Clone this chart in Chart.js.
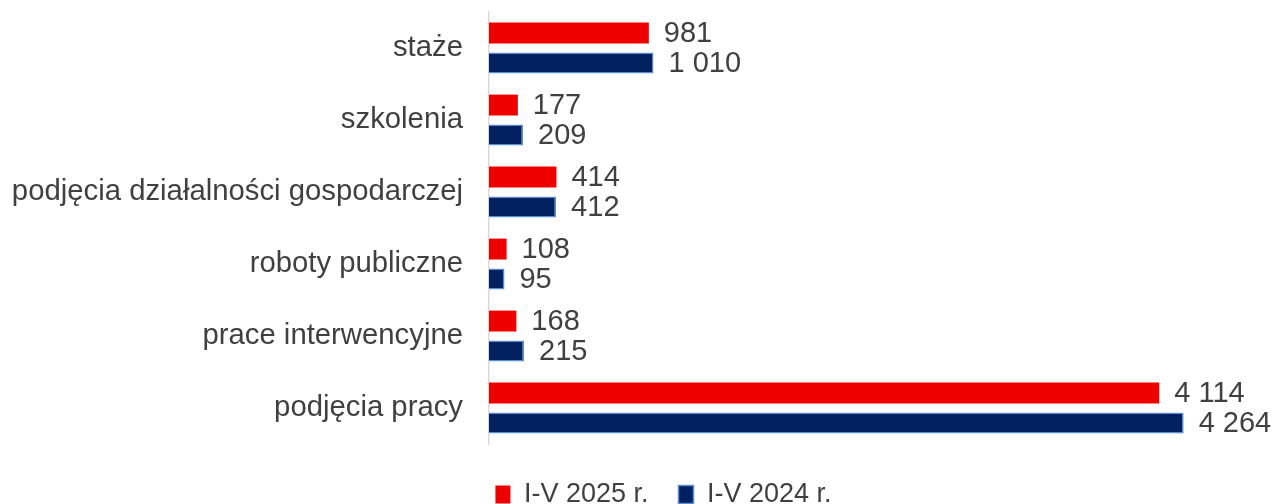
<!DOCTYPE html>
<html>
<head>
<meta charset="utf-8">
<script src="https://cdn.jsdelivr.net/npm/chart.js@4"></script>
<style>
  html, body { margin: 0; padding: 0; background: #fff; overflow: hidden; }
  #wrap { width: 1274px; height: 511px; }
</style>
</head>
<body>
<div id="wrap"><canvas id="chart"></canvas></div>
<script>
// Dane
const categories = ['staże', 'szkolenia', 'podjęcia działalności gospodarczej', 'roboty publiczne', 'prace interwencyjne', 'podjęcia pracy'];
const values2025 = [981, 177, 414, 108, 168, 4114];
const values2024 = [1010, 209, 412, 95, 215, 4264];
const seriesNames = ['I-V 2025 r.', 'I-V 2024 r.'];

const FONT = 'Arial, "Liberation Sans", sans-serif';
const TEXT = '#404040';

function fmt(v) {
    return String(v).replace(/\B(?=(\d{3})+(?!\d))/g, ' ');
}

// etykiety wartości przy słupkach
const valueLabels = {
    id: 'valueLabels',
    afterDatasetsDraw(chart) {
        const ctx = chart.ctx;
        ctx.save();
        ctx.font = '29px ' + FONT;
        ctx.fillStyle = TEXT;
        ctx.textAlign = 'left';
        ctx.textBaseline = 'middle';
        chart.data.datasets.forEach((ds, i) => {
            chart.getDatasetMeta(i).data.forEach((bar, j) => {
                ctx.fillText(fmt(ds.data[j]), bar.x + 15, bar.y + 1);
            });
        });
        ctx.restore();
    }
};

// legenda przesunięta jak w oryginale
const legendShift = {
    id: 'legendShift',
    afterLayout(chart) {
        const lg = chart.legend;
        lg.left += 56;
        lg.top += 7;
        lg.bottom += 7;
    }
};

new Chart(document.getElementById('chart'), {
    type: 'bar',
    data: {
        labels: categories,
        datasets: [{
            label: seriesNames[0],
            data: values2025,
            backgroundColor: '#EE0000',
            borderWidth: 0
        }, {
            label: seriesNames[1],
            data: values2024,
            backgroundColor: '#002060',
            borderColor: '#5B8FD0',
            borderWidth: 1.5
        }]
    },
    options: {
        indexAxis: 'y',
        responsive: true,
        maintainAspectRatio: false,
        animation: false,
        categoryPercentage: 0.83,
        barPercentage: 0.7,
        layout: { padding: { top: 12, right: 3, bottom: 0, left: 0 } },
        scales: {
            x: {
                display: false,
                min: 0,
                max: 4800
            },
            y: {
                grid: { display: false, tickLength: 26 },
                border: { display: true, color: '#D9D9D9', width: 1.5 },
                ticks: {
                    color: TEXT,
                    font: { family: FONT, size: 29.3, lineHeight: 0.1 },
                    padding: 0
                },
                afterFit(scale) { scale.width = 489; }
            }
        },
        plugins: {
            legend: {
                position: 'bottom',
                labels: {
                    color: TEXT,
                    font: { family: FONT, size: 27 },
                    boxWidth: 15,
                    boxHeight: 18,
                    padding: 30
                }
            },
            tooltip: { enabled: false }
        }
    },
    plugins: [valueLabels, legendShift]
});
</script>
</body>
</html>
